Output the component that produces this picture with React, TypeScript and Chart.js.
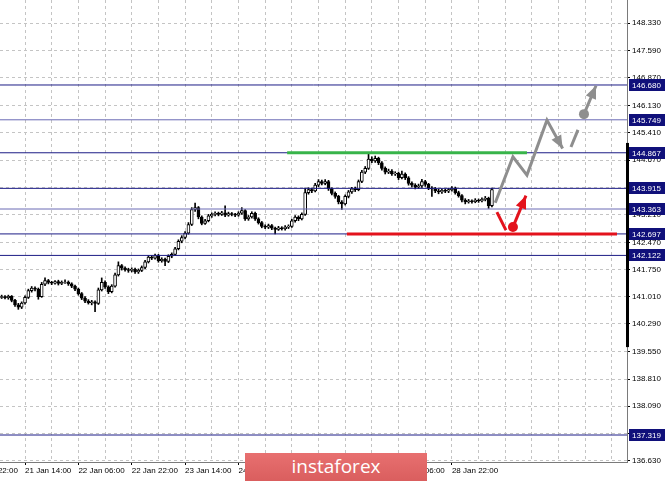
import React, { useEffect, useRef } from 'react';
import { Chart, registerables } from 'chart.js';

Chart.register(...registerables);

// hourly candles, 21 Jan 07:00 .. 29 Jan 10:00
const opens = [
  141.00, 141.02, 140.99, 141.03, 140.92, 140.80, 140.74, 140.85, 141.00, 141.18,
  141.25, 141.22, 141.02, 141.35, 141.45, 141.40, 141.38, 141.42, 141.37, 141.40,
  141.41, 141.36, 141.30, 141.22, 141.10, 140.98, 140.90, 140.86, 140.88, 140.84,
  141.20, 141.40, 141.28, 141.15, 141.30, 141.60, 141.85, 141.78, 141.74, 141.72,
  141.75, 141.68, 141.72, 141.80, 141.95, 142.08, 142.05, 142.12, 141.98, 142.02,
  141.96, 142.10, 142.15, 142.30, 142.50, 142.60, 142.72, 142.95, 143.35, 143.40,
  143.15, 142.98, 143.05, 143.18, 143.22, 143.25, 143.22, 143.26, 143.20, 143.24,
  143.22, 143.20, 143.25, 143.32, 143.10, 143.15, 143.25, 143.10, 143.00, 142.90,
  142.88, 142.92, 142.85, 142.82, 142.86, 142.84, 142.88, 142.90, 143.05, 143.15,
  143.10, 143.22, 143.80, 143.88, 143.85, 144.00, 144.10, 144.05, 144.10, 143.90,
  143.78, 143.70, 143.55, 143.50, 143.70, 143.82, 143.90, 143.88, 144.10, 144.35,
  144.45, 144.70, 144.65, 144.72, 144.60, 144.45, 144.35, 144.38, 144.30, 144.32,
  144.20, 144.30, 144.20, 144.05, 144.00, 143.95, 143.98, 144.10, 144.02, 143.92,
  143.90, 143.85, 143.82, 143.86, 143.84, 143.88, 143.92, 143.80, 143.72, 143.60,
  143.55, 143.58, 143.56, 143.60, 143.58, 143.62, 143.65, 143.45,
];
const highs = [
  141.06, 141.05, 141.06, 141.05, 140.95, 140.84, 140.88, 141.04, 141.22, 141.29,
  141.28, 141.25, 141.40, 141.52, 141.48, 141.43, 141.45, 141.46, 141.44, 141.47,
  141.44, 141.39, 141.33, 141.25, 141.13, 141.02, 140.94, 140.92, 140.91, 141.25,
  141.52, 141.44, 141.31, 141.34, 141.65, 141.95, 141.88, 141.82, 141.78, 141.79,
  141.78, 141.76, 141.84, 141.99, 142.12, 142.12, 142.16, 142.15, 142.06, 142.05,
  142.14, 142.19, 142.34, 142.54, 142.65, 142.76, 143.00, 143.40, 143.52, 143.43,
  143.18, 143.09, 143.22, 143.26, 143.29, 143.28, 143.30, 143.45, 143.28, 143.27,
  143.25, 143.29, 143.40, 143.35, 143.19, 143.29, 143.28, 143.13, 143.03, 142.94,
  142.96, 142.95, 142.88, 142.90, 142.89, 142.92, 142.94, 143.09, 143.19, 143.18,
  143.26, 143.92, 143.93, 143.92, 144.05, 144.15, 144.14, 144.15, 144.13, 143.93,
  143.82, 143.73, 143.59, 143.74, 143.86, 143.94, 143.95, 144.14, 144.40, 144.50,
  144.86, 144.76, 144.78, 144.75, 144.63, 144.49, 144.43, 144.42, 144.36, 144.35,
  144.38, 144.33, 144.23, 144.09, 144.04, 144.03, 144.16, 144.13, 144.05, 143.96,
  143.94, 143.89, 143.90, 143.90, 143.92, 143.96, 143.95, 143.84, 143.75, 143.64,
  143.62, 143.61, 143.64, 143.63, 143.66, 143.70, 143.68, 143.92,
];
const lows = [
  140.97, 140.96, 140.95, 140.88, 140.76, 140.68, 140.70, 140.82, 140.97, 141.14,
  141.17, 140.95, 141.00, 141.31, 141.36, 141.34, 141.35, 141.33, 141.34, 141.37,
  141.32, 141.26, 141.18, 141.06, 140.94, 140.86, 140.82, 140.80, 140.62, 140.81,
  141.17, 141.24, 141.10, 141.12, 141.27, 141.57, 141.73, 141.70, 141.67, 141.68,
  141.64, 141.64, 141.69, 141.77, 141.92, 142.01, 142.02, 141.94, 141.94, 141.85,
  141.93, 142.06, 142.12, 142.27, 142.46, 142.56, 142.69, 142.92, 143.30, 143.10,
  142.94, 142.95, 143.02, 143.14, 143.18, 143.18, 143.19, 143.16, 143.17, 143.18,
  143.16, 143.17, 143.22, 143.06, 143.06, 143.12, 143.06, 142.96, 142.86, 142.84,
  142.84, 142.81, 142.70, 142.79, 142.80, 142.80, 142.84, 142.87, 143.01, 143.05,
  143.07, 143.19, 143.76, 143.80, 143.82, 143.96, 144.01, 144.01, 143.86, 143.74,
  143.65, 143.50, 143.35, 143.47, 143.66, 143.78, 143.83, 143.85, 144.07, 144.31,
  144.42, 144.60, 144.61, 144.55, 144.40, 144.30, 144.31, 144.26, 144.26, 144.15,
  144.17, 144.15, 144.00, 143.95, 143.90, 143.91, 143.94, 143.97, 143.88, 143.70,
  143.80, 143.77, 143.78, 143.80, 143.80, 143.84, 143.76, 143.68, 143.55, 143.50,
  143.52, 143.52, 143.53, 143.54, 143.55, 143.58, 143.38, 143.42,
];
const closes = [
  141.02, 140.99, 141.03, 140.92, 140.80, 140.74, 140.85, 141.00, 141.18, 141.25,
  141.22, 141.02, 141.35, 141.45, 141.40, 141.38, 141.42, 141.37, 141.40, 141.41,
  141.36, 141.30, 141.22, 141.10, 140.98, 140.90, 140.86, 140.88, 140.84, 141.20,
  141.40, 141.28, 141.15, 141.30, 141.60, 141.85, 141.78, 141.74, 141.72, 141.75,
  141.68, 141.72, 141.80, 141.95, 142.08, 142.05, 142.12, 141.98, 142.02, 141.96,
  142.10, 142.15, 142.30, 142.50, 142.60, 142.72, 142.95, 143.35, 143.40, 143.15,
  142.98, 143.05, 143.18, 143.22, 143.25, 143.22, 143.26, 143.20, 143.24, 143.22,
  143.20, 143.25, 143.32, 143.10, 143.15, 143.25, 143.10, 143.00, 142.90, 142.88,
  142.92, 142.85, 142.82, 142.86, 142.84, 142.88, 142.90, 143.05, 143.15, 143.10,
  143.22, 143.80, 143.88, 143.85, 144.00, 144.10, 144.05, 144.10, 143.90, 143.78,
  143.70, 143.55, 143.50, 143.70, 143.82, 143.90, 143.88, 144.10, 144.35, 144.45,
  144.70, 144.65, 144.72, 144.60, 144.45, 144.35, 144.38, 144.30, 144.32, 144.20,
  144.30, 144.20, 144.05, 144.00, 143.95, 143.98, 144.10, 144.02, 143.92, 143.90,
  143.85, 143.82, 143.86, 143.84, 143.88, 143.92, 143.80, 143.72, 143.60, 143.55,
  143.58, 143.56, 143.60, 143.58, 143.62, 143.65, 143.45, 143.88,
];

// one label every 16 bars, the first one lies just left of the chart
const timeLabels = [
  '20 Jan 22:00', '21 Jan 14:00', '22 Jan 06:00', '22 Jan 22:00', '23 Jan 14:00',
  '24 Jan 06:00', '24 Jan 22:00', '27 Jan 14:00', '28 Jan 06:00', '28 Jan 22:00',
];
const priceTicks = [
  136.63, 137.35, 138.09, 138.81, 139.55, 140.29, 141.01, 141.75, 142.47,
  143.21, 143.95, 144.67, 145.41, 146.13, 146.87, 147.59, 148.33,
];
const levels = [146.68, 145.749, 144.867, 143.915, 143.363, 142.697, 142.122, 137.319];
const faintLevels = [145.749, 143.363];

// forecast drawing: [bar, price]
const greenLine = [[85.6, 144.867], [157.5, 144.867]];
const redLine = [[103.5, 142.697], [184.5, 142.697]];
const grayPath = [[148.0, 143.53], [153.3, 144.76], [157.5, 144.27], [163.5, 145.74], [168.2, 144.98]];
const grayDash = [[170.7, 145.02], [172.8, 145.48]];
const grayUp = [[174.6, 145.9], [178.2, 146.66]];
const redDrop = [[148.5, 143.28], [151.2, 142.8]];
const redUp = [[153.3, 142.88], [157.2, 143.72]];
const scaleMark = [139.67, 145.13];

const X_MIN = -0.5;
const X_MAX = 187.5;
const FIRST_TICK = -9;
const Y_MIN = 136.597;
const Y_MAX = 148.953;
const FONT = 'Liberation Sans';
const GRAY = '#8e8e8e';
const RED = '#e3121c';

const pts = (arr: number[][]) => arr.map(([x, y]) => ({ x, y }));
const labelAt = (v: number) => {
  const k = (v - FIRST_TICK) / 16;
  return Number.isInteger(k) && k < timeLabels.length ? timeLabels[k] : '';
};

const drawingPlugin = {
  id: 'drawing',
  afterDatasetsDraw(chart: any) {
    const ctx = chart.ctx;
    chart.data.datasets.forEach((ds: any, i: number) => {
      if (!ds.arrowHead) return;
      const data = chart.getDatasetMeta(i).data;
      const a = data[data.length - 2];
      const b = data[data.length - 1];
      const ang = Math.atan2(b.y - a.y, b.x - a.x);
      const len = 13;
      const half = 5.5;
      const bx = b.x - len * Math.cos(ang);
      const by = b.y - len * Math.sin(ang);
      ctx.save();
      ctx.fillStyle = ds.borderColor;
      ctx.beginPath();
      ctx.moveTo(b.x, b.y);
      ctx.lineTo(bx + half * Math.sin(ang), by - half * Math.cos(ang));
      ctx.lineTo(bx - half * Math.sin(ang), by + half * Math.cos(ang));
      ctx.closePath();
      ctx.fill();
      ctx.restore();
    });
  },
  afterDraw(chart: any) {
    const ctx = chart.ctx;
    const y = chart.scales.y;
    const right = chart.chartArea.right;
    ctx.save();
    // thick part of the price scale
    ctx.strokeStyle = '#000';
    ctx.lineWidth = 3;
    ctx.beginPath();
    ctx.moveTo(right + 0.5, y.getPixelForValue(scaleMark[1]));
    ctx.lineTo(right + 0.5, y.getPixelForValue(scaleMark[0]));
    ctx.stroke();
    // level labels
    ctx.font = `8px "${FONT}"`;
    ctx.textBaseline = 'middle';
    ctx.textAlign = 'left';
    levels.forEach((l) => {
      const py = Math.round(y.getPixelForValue(l));
      ctx.fillStyle = '#10107a';
      ctx.fillRect(right + 2, py - 6, 36, 12);
      ctx.fillStyle = '#fff';
      ctx.fillText(l.toFixed(3), right + 5, py + 0.5);
    });
    ctx.restore();
  },
};

export default function App() {
  const canvasRef = useRef<HTMLCanvasElement | null>(null);

  useEffect(() => {
    if (!canvasRef.current) return;

    const wicks = closes.map((_, i) => ({ x: i, y: [lows[i], highs[i]] }));
    const bodies = closes.map((c, i) => ({ x: i, y: [opens[i], c] }));
    const bodyColors = closes.map((c, i) => (c >= opens[i] ? '#ffffff' : '#000000'));

    const lineDs = (data: number[][], color: string, width: number, extra: any = {}) => ({
      type: 'line' as const,
      data: pts(data),
      borderColor: color,
      backgroundColor: color,
      borderWidth: width,
      pointRadius: 0,
      tension: 0,
      order: 1,
      ...extra,
    });

    const chart = new Chart(canvasRef.current, {
      type: 'bar',
      data: {
        datasets: [
          ...levels.map((l) =>
            lineDs([[X_MIN, l], [X_MAX, l]], faintLevels.includes(l) ? '#6a6ab4' : '#1c1c86', 1, { order: 3 })
          ),
          {
            type: 'bar',
            data: wicks,
            backgroundColor: '#000',
            barThickness: 1,
            grouped: false,
            order: 5,
          } as any,
          {
            type: 'bar',
            data: bodies,
            backgroundColor: bodyColors,
            borderColor: '#000',
            borderWidth: 1,
            borderSkipped: false,
            barThickness: 3,
            grouped: false,
            order: 4,
          } as any,
          lineDs(greenLine, '#38b44a', 3, { order: 2 }),
          lineDs(redLine, RED, 3, { order: 2 }),
          lineDs(grayPath, GRAY, 3, { arrowHead: true, borderJoinStyle: 'miter' }),
          lineDs(grayDash, GRAY, 3),
          lineDs(grayUp, GRAY, 3, { arrowHead: true, pointRadius: [5, 0], pointBorderWidth: 0 }),
          lineDs(redDrop, RED, 3),
          lineDs(redUp, RED, 3, { arrowHead: true, pointRadius: [5, 0], pointBorderWidth: 0 }),
        ],
      },
      options: {
        responsive: false,
        animation: false,
        events: [],
        layout: { padding: 0, autoPadding: false },
        plugins: { legend: { display: false }, tooltip: { enabled: false } },
        scales: {
          x: {
            type: 'linear',
            min: X_MIN,
            max: X_MAX,
            bounds: 'data',
            offset: false,
            afterBuildTicks: (scale: any) => {
              const t = [];
              for (let v = FIRST_TICK; v <= X_MAX; v += 8) t.push({ value: v });
              scale.ticks = t;
            },
            afterFit: (scale: any) => {
              scale.height = 19;
              scale.paddingLeft = 0;
              scale.paddingRight = 0;
            },
            ticks: {
              autoSkip: false,
              maxRotation: 0,
              minRotation: 0,
              align: 'start',
              padding: 1,
              color: '#000',
              font: { family: FONT, size: 8 },
              callback: (v: any) => labelAt(Number(v)),
            },
            grid: {
              offset: false,
              color: '#c4c4c4',
              tickLength: 3,
              tickColor: (c: any) => (labelAt(c.tick.value) ? '#000' : 'transparent'),
            },
            border: { display: true, color: '#7a7a7a', dash: [3, 3] },
          },
          y: {
            type: 'linear',
            position: 'right',
            min: Y_MIN,
            max: Y_MAX,
            bounds: 'data',
            beginAtZero: false,
            afterBuildTicks: (scale: any) => {
              scale.ticks = priceTicks.map((v) => ({ value: v }));
            },
            afterFit: (scale: any) => {
              scale.width = 38;
              scale.paddingTop = 0;
              scale.paddingBottom = 0;
            },
            ticks: {
              padding: 2,
              color: '#000',
              font: { family: FONT, size: 8 },
              callback: (v: any) => Number(v).toFixed(3),
            },
            grid: { color: '#c4c4c4', tickLength: 3, tickColor: '#000' },
            border: { display: true, color: '#7a7a7a', dash: [3, 3] },
          },
        },
      },
      plugins: [drawingPlugin],
    } as any);

    return () => chart.destroy();
  }, []);

  return (
    <div style={{ position: 'absolute', left: 0, top: 0, width: 665, height: 481, background: '#fff', overflow: 'hidden' }}>
      <canvas ref={canvasRef} width={665} height={481} />
      <div
        style={{
          position: 'absolute',
          left: 245,
          top: 453,
          width: 182,
          height: 28,
          background: 'linear-gradient(#e87070, #da5e5e)',
          color: '#fff',
          fontFamily: '"Open Sans", "Liberation Sans", sans-serif',
          fontSize: 19,
          lineHeight: '27px',
          textAlign: 'center',
        }}
      >
        instaforex
      </div>
    </div>
  );
}
